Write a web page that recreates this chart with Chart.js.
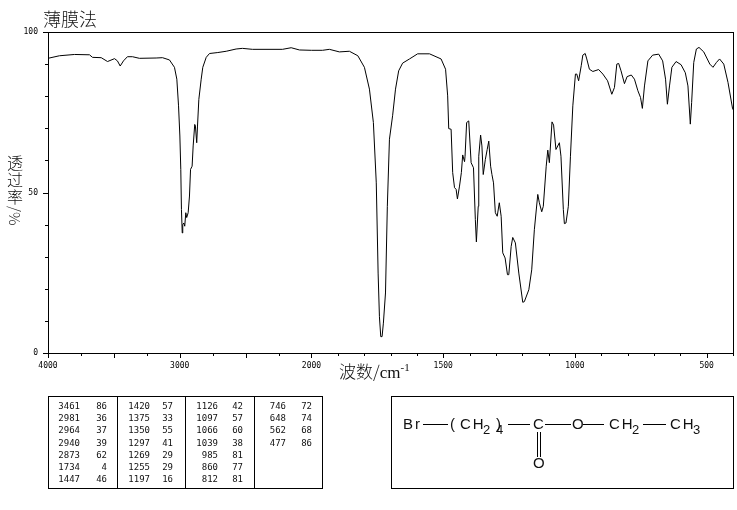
<!DOCTYPE html>
<html>
<head>
<meta charset="utf-8">
<script src="https://cdn.jsdelivr.net/npm/chart.js@4"></script>
<style>
  html, body { margin: 0; padding: 0; background: #fff; }
  #page { position: relative; width: 737px; height: 510px; overflow: hidden; color: #111; }
  #page div { position: absolute; white-space: nowrap; }
  canvas { position: absolute; left: 0; top: 0; }
  #peaks, #molecule, #yTitle { left: 0; top: 0; width: 737px; height: 510px; }
  .cjk { font-family: "Noto Sans CJK SC", sans-serif; font-weight: 300; }
  .box { border: 1px solid #000; box-sizing: border-box; }
  .rule { background: #000; }
  .num { font: 9px "DejaVu Sans Mono", monospace; line-height: 12px; text-align: right; }
  .mol { font: 15px "Liberation Sans", sans-serif; line-height: 16px; letter-spacing: 2px; }
  .sub { font: 13px "Liberation Sans", sans-serif; line-height: 14px; }
</style>
</head>
<body>
<div id="page">
  <canvas id="irChart" width="737" height="510"></canvas>
  <div class="cjk" style="left:43px;top:6px;font-size:18px;line-height:24px;">薄膜法</div>
  <div id="yTitle"></div>
  <div class="cjk" style="left:339px;top:360px;font-size:17px;line-height:22px;">波数/<span style="font-family:'Liberation Serif';">cm<sup style="font-size:11px;line-height:0;">-1</sup></span></div>
  <div class="box" style="left:48px;top:396px;width:275px;height:93px;"></div>
  <div class="box" style="left:391px;top:396px;width:343px;height:93px;"></div>
  <div id="peaks"></div>
  <div id="molecule"></div>
</div>
<script>
// Spectrum trace
const wavenumbers = [4000,3913,3799,3685,3662,3596,3548,3495,3473,3452,3427,3397,3359,3306,3179,3131,3078,3040,3022,3009,2999,2992,2987,2981,2977,2969,2962,2954,2947,2936,2926,2918,2906,2898,2886,2881,2871,2865,2855,2837,2825,2799,2774,2711,2647,2572,2524,2448,2220,2154,2091,2000,
  1958,1932,1894,1856,1824,1799,1780,1765,1754,1747,1742,1737,1732,1727,1719,1712,1704,1692,1681,1669,1654,1628,1597,1552,1508,1491,1483,1479,1470,1464,1457,1451,1446,1438,1431,1426,1419,1417,1411,1403,1394,1385,1378,1374,1367,1365,1358,1353,1348,1340,1333,1327,1320,1315,1309,1302,1295,1287,1280,1274,1265,1256,1251,1242,1236,1226,1213,1198,1192,1175,1164,1154,1141,1135,1126,1120,1109,1103,1097,1087,1081,1072,1059,1053,1044,1040,1034,1025,1017,1008,
  998,993,986,976,970,961,955,945,932,910,894,876,860,850,841,834,825,812,802,786,774,761,751,744,736,723,705,682,667,656,649,641,632,616,597,581,571,562,557,549,539,529,511,488,476,463,451,435,419,402,400];
const transmittance = [91.8,92.6,93,92.9,92.1,92,90.8,91.7,91,89.4,91,92.3,92.3,91.8,91.9,92,91.3,89,85.3,77,67.6,57.2,44.7,37.4,40,40.5,39.5,43.7,42.2,43.7,48.9,57.2,58.2,64.5,71.2,70.7,65.5,70.7,79,85.3,89,92.1,93.3,93.6,94,94.7,94.9,94.6,94.6,95.1,94.4,94.3,
  94.3,94.6,93.8,94,92.6,89,82.2,71.8,53,24.9,11.3,5.1,5.1,9.3,18.7,45.7,66.6,73.9,82.2,87.9,90.3,91.6,93.2,93.2,91.6,88.4,80.1,69.9,69.7,56.2,51.5,51,48,52,56.2,61.7,59.6,61.3,71.8,72.3,59.3,57.7,41.6,34.6,45.7,61.3,67.9,64.5,55.6,60.3,63.4,66,58.2,55.6,53,43.7,42.6,46.8,42.6,31.2,29.6,24.4,24.4,33.2,36,34.3,24.9,15.8,16,19.7,25.9,38.4,49.4,46.8,44,45.7,58.2,63.2,59.3,72,71,63.4,65.5,61.3,44.7,40.3,40.5,45.7,61.3,77,
  86.9,86.9,84.8,89.5,92.8,93.3,91.6,88.4,87.7,88.3,86.9,84.8,80.6,82.7,90,90.2,87.9,83.9,86.1,86.6,85.3,81.7,79.6,76.2,83.2,91,92.8,93.1,91,85.3,77.5,83.2,89,90.8,89.8,87.3,83.2,71.3,78,90.5,94.7,95.2,93.8,90,89,90.5,91.6,90,84.3,76.3,75.8];

// Axis ticks
const xTicks = [4000,3750,3500,3250,3000,2750,2500,2250,2000,1900,1800,1700,1600,1500,1400,1300,1200,1100,1000,900,800,700,600,500,400];
const xLabels = [4000,3000,2000,1500,1000,500];
const yLabels = [100,50,0];

// Peak table, 7 rows per column
const peakWn = [3461,2981,2964,2940,2873,1734,1447,1420,1375,1350,1297,1269,1255,1197,1126,1097,1066,1039,985,860,812,746,648,562,477];
const peakT = [86,36,37,39,62,4,46,57,33,55,41,29,29,16,42,57,60,38,81,77,81,72,74,68,86];

// The axis is compressed by half above 2000 cm-1
function wnToPos(w) {
  return w >= 2000 ? (4000 - w) / 2 : 1000 + (2000 - w);
}
function posToWn(p) {
  return p <= 1000 ? 4000 - p * 2 : 3000 - p;
}

// Tick marks and frame; the long ones sit on multiples of 500 and the labelled y values
const frame = {
  id: 'frame',
  afterDraw(chart) {
    const { ctx, chartArea: a, scales: { x, y } } = chart;
    ctx.save();
    ctx.strokeStyle = '#000';
    ctx.lineWidth = 1;
    ctx.beginPath();
    x.ticks.forEach(t => {
      const px = Math.round(x.getPixelForValue(t.value)) + 0.5;
      const long = posToWn(t.value) % 500 === 0;
      ctx.moveTo(px, a.bottom);
      ctx.lineTo(px, a.bottom + (long ? 5 : 3));
    });
    y.ticks.forEach(t => {
      const py = Math.round(y.getPixelForValue(t.value)) + 0.5;
      ctx.moveTo(a.left, py);
      ctx.lineTo(a.left - (t.value % 50 === 0 ? 5 : 3), py);
    });
    ctx.moveTo(a.left - 5, a.top + 0.5);
    ctx.lineTo(a.right, a.top + 0.5);
    ctx.moveTo(a.right + 0.5, a.top);
    ctx.lineTo(a.right + 0.5, a.bottom);
    ctx.moveTo(a.left + 0.5, a.top);
    ctx.lineTo(a.left + 0.5, a.bottom);
    ctx.moveTo(a.left - 5, a.bottom + 0.5);
    ctx.lineTo(a.right, a.bottom + 0.5);
    ctx.stroke();
    ctx.restore();
  }
};

new Chart(document.getElementById('irChart'), {
  type: 'line',
  data: {
    datasets: [{
      data: wavenumbers.map((w, i) => ({ x: wnToPos(w), y: transmittance[i] })),
      borderColor: '#000',
      borderWidth: 1,
      pointRadius: 0,
      tension: 0
    }]
  },
  plugins: [frame],
  options: {
    responsive: false,
    animation: false,
    layout: { padding: { left: 0, top: 32, right: 4, bottom: 0 } },
    plugins: { legend: { display: false }, tooltip: { enabled: false } },
    scales: {
      x: {
        type: 'linear',
        min: 0,
        max: 2600,
        afterFit: s => { s.height = 157; },
        afterBuildTicks: s => { s.ticks = xTicks.map(w => ({ value: wnToPos(w) })); },
        grid: { display: false },
        border: { display: false },
        ticks: {
          autoSkip: false,
          maxRotation: 0,
          padding: 0,
          color: '#000',
          font: { family: 'DejaVu Sans Mono', size: 8 },
          callback: v => {
            const w = posToWn(v);
            return xLabels.includes(w) ? String(w) : '';
          }
        }
      },
      y: {
        min: 0,
        max: 100,
        afterFit: s => { s.width = 48; },
        grid: { display: false },
        border: { display: false },
        ticks: {
          stepSize: 10,
          autoSkip: false,
          padding: 2,
          color: '#000',
          font: { family: 'DejaVu Sans Mono', size: 8 },
          callback: v => yLabels.includes(v) ? String(v) : ''
        }
      }
    }
  }
});

// Vertical axis title, upright characters stacked by hand
const yTitle = document.getElementById('yTitle');
['透', '过', '率'].forEach((c, i) => {
  yTitle.innerHTML += `<div class="cjk" style="left:7px;top:${153 + i * 17}px;font-size:16px;line-height:18px;">${c}</div>`;
});
yTitle.innerHTML += `<div class="cjk" style="left:5px;top:207px;font-size:15px;line-height:18px;transform:rotate(90deg);transform-origin:10px 9px;">/%</div>`;

// Peak table
const peaksDiv = document.getElementById('peaks');
const wnRight = [80, 150, 218, 286];
const tRight = [107, 173, 243, 312];
peakWn.forEach((w, i) => {
  const col = Math.floor(i / 7);
  const top = 400 + (i % 7) * 12.2;
  peaksDiv.innerHTML += `<div class="num" style="right:${737 - wnRight[col]}px;top:${top}px;">${w}</div>`;
  peaksDiv.innerHTML += `<div class="num" style="right:${737 - tRight[col]}px;top:${top}px;">${peakT[i]}</div>`;
});
[117, 185, 254].forEach(x => {
  peaksDiv.innerHTML += `<div class="rule" style="left:${x}px;top:396px;width:1px;height:93px;"></div>`;
});

// Structure formula
const molText = [
  ['Br', 403, 416], ['(', 450, 416], ['CH', 460, 416], [')', 496, 416], ['C', 533, 416],
  ['O', 572, 416], ['CH', 609, 416], ['CH', 670, 416], ['O', 533, 455]
];
const molSubs = [['2', 483, 423], ['4', 496, 423], ['2', 632, 423], ['3', 693, 423]];
const molBonds = [[423, 448], [508, 530], [545, 571], [583, 604], [643, 666]];
const molDiv = document.getElementById('molecule');
molText.forEach(([s, x, y]) => {
  molDiv.innerHTML += `<div class="mol" style="left:${x}px;top:${y}px;">${s}</div>`;
});
molSubs.forEach(([s, x, y]) => {
  molDiv.innerHTML += `<div class="sub" style="left:${x}px;top:${y}px;">${s}</div>`;
});
molBonds.forEach(([a, b]) => {
  molDiv.innerHTML += `<div class="rule" style="left:${a}px;top:424px;width:${b - a}px;height:1px;"></div>`;
});
[537, 540].forEach(x => {
  molDiv.innerHTML += `<div class="rule" style="left:${x}px;top:432px;width:1px;height:25px;"></div>`;
});
</script>
</body>
</html>
